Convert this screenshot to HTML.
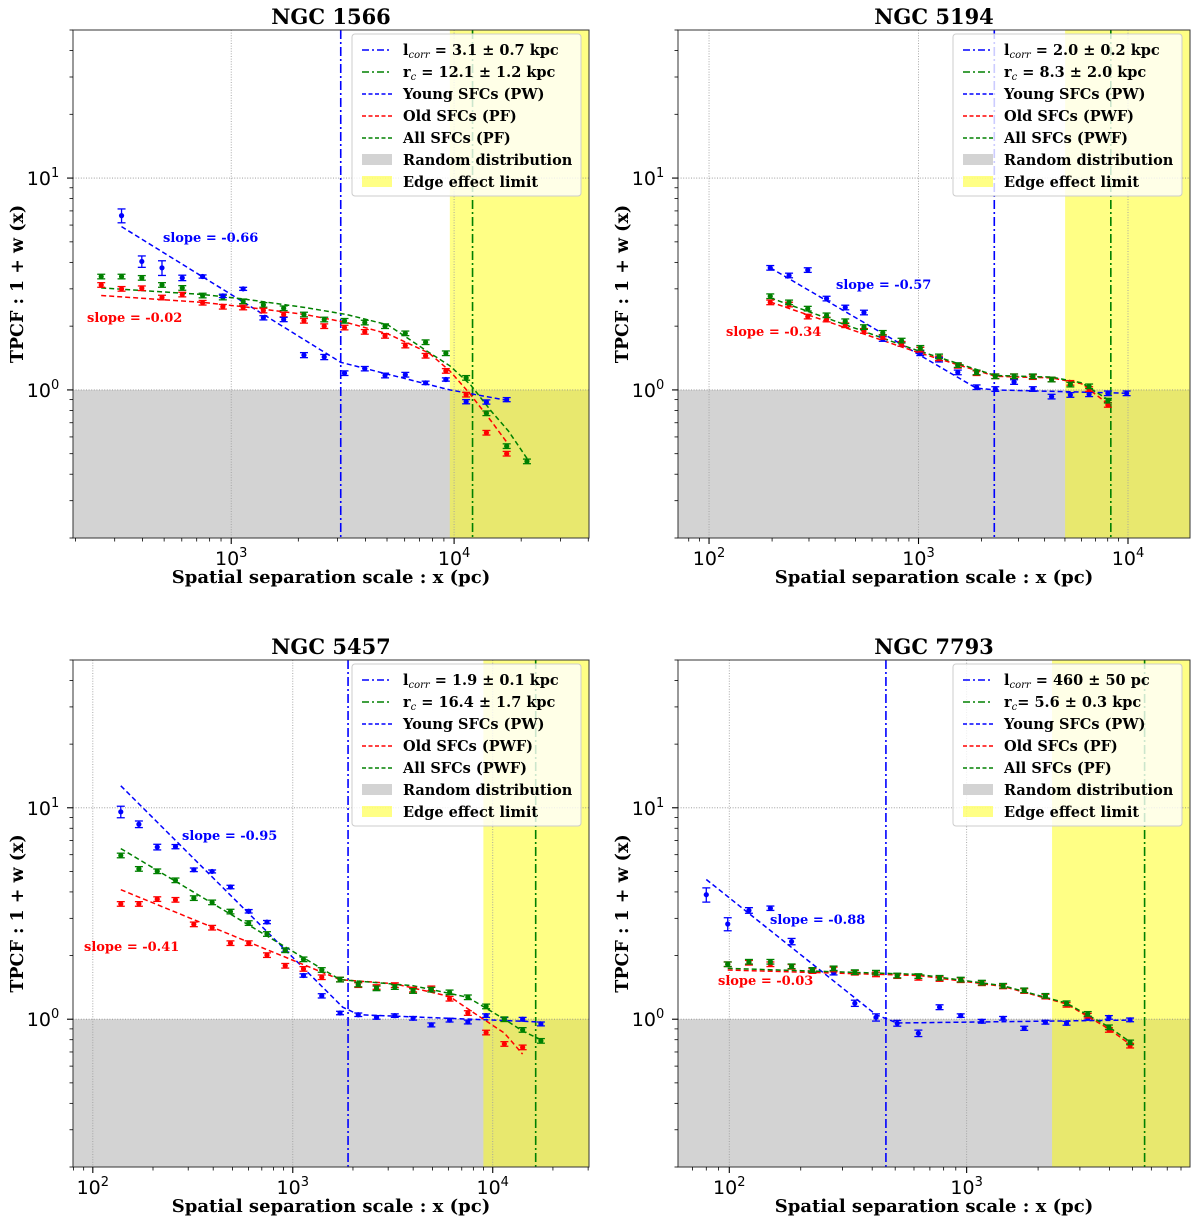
<!DOCTYPE html>
<html><head><meta charset="utf-8"><title>TPCF panels</title>
<style>
html,body{margin:0;padding:0;background:#fff;}
svg{display:block;}
.ser{font-family:"DejaVu Serif","Liberation Serif",serif;font-weight:bold;}
.san{font-family:"DejaVu Sans","Liberation Sans",sans-serif;}
</style></head>
<body>
<svg id="fig" width="1200" height="1226" viewBox="0 0 1200 1226" xmlns="http://www.w3.org/2000/svg"></svg>
<script>
// ---------------- DATA ----------------
// Panel 1: NGC 1566
const p1AllX   = [261,322,397,489,603,744,917,1131,1394,1719,2120,2614,3223,3974,4900,6041,7449,9184,11324,13963,17216,21228];
const p1AllY   = [3.43,3.43,3.38,3.13,3.03,2.79,2.73,2.62,2.52,2.43,2.27,2.15,2.12,2.08,2.00,1.85,1.68,1.49,1.14,0.776,0.543,0.46];
const p1OldX   = [261,322,397,489,603,744,917,1131,1394,1719,2120,2614,3223,3974,4900,6041,7449,9184,11324,13963,17216];
const p1OldY   = [3.13,3.00,3.02,2.73,2.82,2.58,2.47,2.45,2.37,2.27,2.12,2.00,1.97,1.88,1.80,1.62,1.45,1.23,0.95,0.628,0.50];
const p1YoungX = [322,397,489,603,744,917,1131,1394,1719,2120,2614,3223,3974,4900,6041,7449,9184,11324,13963,17216];
const p1YoungY = [6.65,4.04,3.77,3.38,3.43,2.78,3.00,2.19,2.15,1.46,1.43,1.20,1.26,1.17,1.18,1.08,1.12,0.88,0.877,0.90];
const p1YoungErr = [0.5,0.25,0.3,0.1,0.06,0.05,0.05,0.05,0.05,0.04,0.04,0.03,0.03,0.03,0.03,0.02,0.02,0.02,0.02,0.02];
const p1YoungFitX = [322,3100,9570,17530];
const p1YoungFitY = [5.9,1.35,1.0,0.89];
const p1OldFitX = [261,745,1129,2143,3290,5035,7730,9570,11840,14660,17530];
const p1OldFitY = [2.79,2.59,2.47,2.27,2.08,1.84,1.49,1.23,0.953,0.713,0.553];
const p1AllFitX = [261,745,1129,2143,3290,5035,7730,9570,11840,14660,17530,21680];
const p1AllFitY = [3.03,2.82,2.69,2.45,2.27,2.03,1.50,1.30,1.06,0.795,0.64,0.46];
const p1Lines = [3100,12100];   // l_corr, r_c
const p1Edge = 9570;

// Panel 2: NGC 5194
const p2X      = [196,241,296,364,447,549,675,830,1020,1253,1540,1893,2326,2859,3514,4318,5307,6522,8016,9851];
const p2YoungY = [3.77,3.47,3.68,2.70,2.45,2.32,1.74,1.65,1.49,1.39,1.21,1.03,1.01,1.09,1.01,0.93,0.947,0.954,0.964,0.964];
const p2AllX   = [196,241,296,364,447,549,675,830,1020,1253,1540,1893,2326,2859,3514,4318,5307,6522,8016];
const p2AllY   = [2.77,2.59,2.42,2.25,2.11,1.98,1.86,1.71,1.58,1.44,1.31,1.21,1.16,1.16,1.16,1.12,1.06,1.04,0.89];
const p2OldY   = [2.59,2.53,2.22,2.15,2.02,1.90,1.78,1.65,1.55,1.41,1.30,1.20,1.16,1.16,1.15,1.12,1.08,1.01,0.85];
const p2YoungFitX = [196,1885,2300,9851];
const p2YoungFitY = [3.77,1.02,1.0,0.965];
const p2AllFitX = [196,960,2326,4318,6000,8016];
const p2AllFitY = [2.72,1.55,1.17,1.15,1.08,0.90];
const p2OldFitX = [196,960,2326,4318,6000,8016];
const p2OldFitY = [2.60,1.52,1.16,1.14,1.07,0.86];
const p2Lines = [2300,8280];
const p2Edge = 5010;

// Panel 3: NGC 5457
const p3X      = [138,170,210,259,320,395,488,602,743,917,1131,1396,1723,2126,2624,3238,3996,4931,6084,7508,9265,11433,14109,17411];
const p3YoungY = [9.57,8.36,6.52,6.55,5.09,5.00,4.22,3.24,2.88,2.12,1.61,1.29,1.07,1.05,1.02,1.04,1.01,0.94,0.99,0.97,1.04,1.00,1.00,0.95];
const p3YoungErr = [0.6,0.3,0.2,0.15,0.1,0.08,0.08,0.06,0.05,0.04,0.03,0.03,0.02,0.02,0.02,0.02,0.02,0.02,0.02,0.02,0.02,0.02,0.02,0.02];
const p3AllY   = [5.95,5.14,5.01,4.54,3.74,3.57,3.23,2.85,2.53,2.12,1.92,1.71,1.54,1.46,1.40,1.42,1.36,1.38,1.34,1.27,1.15,1.00,0.89,0.79];
const p3OldX   = [138,170,210,259,320,395,488,602,743,917,1131,1396,1723,2126,2624,3238,3996,4931,6084,7508,9265,11433,14109];
const p3OldY   = [3.51,3.51,3.70,3.67,2.81,2.71,2.29,2.29,2.01,1.79,1.73,1.58,1.54,1.45,1.42,1.45,1.38,1.40,1.25,1.07,0.865,0.764,0.736];
const p3YoungFitX = [138,1778,2133,17411];
const p3YoungFitY = [12.7,1.14,1.05,0.97];
const p3AllFitX = [138,1723,3996,7508,11433,14109,17411];
const p3AllFitY = [6.41,1.54,1.44,1.27,1.0,0.88,0.80];
const p3OldFitX = [138,1723,3238,6084,7508,11433,14109];
const p3OldFitY = [4.10,1.54,1.47,1.28,1.12,0.86,0.684];
const p3Lines = [1890,16400];
const p3Edge = 8980;

// Panel 4: NGC 7793
const p4X      = [80,98.5,121,149,183,224,275,338,415,510,626,769,944,1159,1424,1748,2147,2636,3237,3975,4882];
const p4YoungY = [3.88,2.82,3.27,3.35,2.33,1.71,1.66,1.19,1.02,0.957,0.858,1.14,1.04,0.978,1.01,0.906,0.968,0.957,1.01,1.02,0.993];
const p4YoungErr = [0.3,0.2,0.1,0.08,0.08,0.04,0.04,0.04,0.04,0.03,0.03,0.03,0.02,0.02,0.02,0.02,0.02,0.02,0.02,0.02,0.02];
const p4AllX   = [98.5,121,149,183,224,275,338,415,510,626,769,944,1159,1424,1748,2147,2636,3237,3975,4882];
const p4AllY   = [1.82,1.87,1.87,1.78,1.71,1.74,1.67,1.66,1.61,1.60,1.57,1.54,1.49,1.44,1.37,1.29,1.19,1.06,0.916,0.777];
const p4OldY   = [1.82,1.85,1.82,1.77,1.69,1.72,1.66,1.63,1.60,1.57,1.55,1.53,1.48,1.43,1.36,1.28,1.17,1.04,0.89,0.75];
const p4YoungFitX = [80,415,510,4882];
const p4YoungFitY = [4.58,1.05,0.96,0.99];
const p4AllFitX = [98.5,626,1424,2636,3975,4882];
const p4AllFitY = [1.74,1.63,1.44,1.19,0.92,0.78];
const p4OldFitX = [98.5,626,1424,2636,3975,4882];
const p4OldFitY = [1.71,1.61,1.43,1.18,0.90,0.76];
const p4Lines = [457,5620];
const p4Edge = 2290;

// ---------------- DRAWING ----------------
const NS = 'http://www.w3.org/2000/svg';
const fig = document.getElementById('fig');
function el(tag, attrs, parent) {
  const e = document.createElementNS(NS, tag);
  for (const k in attrs) e.setAttribute(k, attrs[k]);
  (parent || fig).appendChild(e);
  return e;
}
const BLUE = '#0000ff', RED = '#ff0000', GREEN = '#008000';

function drawPanel(cfg) {
  const g = el('g', {});
  
  
  const lx0 = Math.log10(cfg.xmin), lx1 = Math.log10(cfg.xmax);
  const ly0 = Math.log10(0.2), ly1 = Math.log10(50);
  const sx = v => cfg.x0 + (Math.log10(v) - lx0) / (lx1 - lx0) * (cfg.x1 - cfg.x0);
  const sy = v => cfg.y1 - (Math.log10(v) - ly0) / (ly1 - ly0) * (cfg.y1 - cfg.y0);
  const W = cfg.x1 - cfg.x0, H = cfg.y1 - cfg.y0;

  const clipId = 'clip-' + cfg.id;
  const cp = el('clipPath', {id: clipId}, g);
  el('rect', {x: cfg.x0, y: cfg.y0, width: W, height: H}, cp);
  const plot = el('g', {'clip-path': 'url(#' + clipId + ')'}, g);

  const gray = el('rect', {x: cfg.x0, y: sy(1), width: W, height: cfg.y1 - sy(1), fill: '#d3d3d3'}, plot);
  
  
  const yel = el('rect', {x: sx(cfg.edge), y: cfg.y0, width: cfg.x1 - sx(cfg.edge), height: H, fill: '#ffff00', 'fill-opacity': 0.48}, plot);
  
  

  for (let d = Math.ceil(lx0); d <= lx1; d++) {
    const x = sx(Math.pow(10, d));
    const gl = el('line', {x1: x, x2: x, y1: cfg.y0, y2: cfg.y1, stroke: '#a0a0a0', 'stroke-width': 0.9, 'stroke-dasharray': '1,1.6'}, plot);
    
    
  }
  [1, 10].forEach(v => {
    const gl = el('line', {x1: cfg.x0, x2: cfg.x1, y1: sy(v), y2: sy(v), stroke: '#909090', 'stroke-width': 0.9, 'stroke-dasharray': '1,1.6'}, plot);
    
    
  });

  const vl1 = el('line', {x1: sx(cfg.lines[0]), x2: sx(cfg.lines[0]), y1: cfg.y0, y2: cfg.y1, stroke: BLUE, 'stroke-width': 1.6, 'stroke-dasharray': '9,3,2,3'}, plot);
  
  
  const vl2 = el('line', {x1: sx(cfg.lines[1]), x2: sx(cfg.lines[1]), y1: cfg.y0, y2: cfg.y1, stroke: GREEN, 'stroke-width': 1.6, 'stroke-dasharray': '9,3,2,3'}, plot);
  
  

  cfg.fits.forEach(f => {
    const pts = f.x.map((v, i) => sx(v).toFixed(1) + ',' + sy(f.y[i]).toFixed(1)).join(' ');
    const pl = el('polyline', {points: pts, fill: 'none', stroke: f.c, 'stroke-width': 1.5, 'stroke-dasharray': '5,3'}, plot);
    
    
  });

  cfg.series.forEach(s => {
    const sg = el('g', {}, plot);
    
    
    s.x.forEach((v, i) => {
      const cx = sx(v), cy = sy(s.y[i]);
      const e = s.err ? s.err[i] : 0.025 * s.y[i];
      const ya = sy(s.y[i] + e), yb = sy(Math.max(0.01, s.y[i] - e));
      el('line', {x1: cx, x2: cx, y1: ya, y2: yb, stroke: s.c, 'stroke-width': 1.3}, sg);
      el('line', {x1: cx - 4, x2: cx + 4, y1: ya, y2: ya, stroke: s.c, 'stroke-width': 1.3}, sg);
      el('line', {x1: cx - 4, x2: cx + 4, y1: yb, y2: yb, stroke: s.c, 'stroke-width': 1.3}, sg);
      const m = el('circle', {cx: cx, cy: cy, r: 2.6, fill: s.c}, sg);
      
      
    });
  });

  cfg.slopes.forEach(t => {
    const tx = el('text', {x: t.x, y: t.y, fill: t.c, 'font-size': 13, class: 'ser'}, g);
    tx.textContent = t.text;
    
    
  });

  const sp = el('rect', {x: cfg.x0, y: cfg.y0, width: W, height: H, fill: 'none', stroke: '#333', 'stroke-width': 1}, g);
  
  

  for (let d = Math.floor(lx0); d <= Math.ceil(lx1); d++) {
    for (let k = 1; k < 10; k++) {
      const v = k * Math.pow(10, d);
      if (v < cfg.xmin || v > cfg.xmax) continue;
      const x = sx(v);
      el('line', {x1: x, x2: x, y1: cfg.y1, y2: cfg.y1 + (k === 1 ? 6 : 3.5), stroke: '#000', 'stroke-width': k === 1 ? 1.1 : 0.8}, g);
      if (k === 1) {
        const t = el('text', {x: x, y: cfg.y1 + 27, 'text-anchor': 'middle', 'font-size': 19, class: 'san'}, g);
        
        
        t.innerHTML = '10<tspan dy="-8" font-size="13">' + d + '</tspan>';
      }
    }
  }
  for (let d = -1; d <= 1; d++) {
    for (let k = 1; k < 10; k++) {
      const v = k * Math.pow(10, d);
      if (v < 0.2 || v > 50) continue;
      const y = sy(v);
      el('line', {x1: cfg.x0, x2: cfg.x0 - (k === 1 ? 6 : 3.5), y1: y, y2: y, stroke: '#000', 'stroke-width': k === 1 ? 1.1 : 0.8}, g);
      if (k === 1) {
        const t = el('text', {x: cfg.x0 - 30, y: y + 7, 'text-anchor': 'middle', 'font-size': 19, class: 'san'}, g);
        
        
        t.innerHTML = '10<tspan dy="-8" font-size="13">' + d + '</tspan>';
      }
    }
  }

  const ti = el('text', {x: (cfg.x0 + cfg.x1) / 2, y: cfg.y0 - 6, 'text-anchor': 'middle', 'font-size': 21, class: 'ser'}, g);
  ti.textContent = cfg.title;
  
  
  const xl = el('text', {x: (cfg.x0 + cfg.x1) / 2, y: cfg.y1 + 45, 'text-anchor': 'middle', 'font-size': 18, class: 'ser'}, g);
  xl.textContent = 'Spatial separation scale : x (pc)';
  
  
  const ym = (cfg.y0 + cfg.y1) / 2;
  const yx = cfg.x0 - 50;
  const yl = el('text', {x: yx, y: ym, 'text-anchor': 'middle', 'font-size': 17.5, class: 'ser', transform: 'rotate(-90 ' + yx + ' ' + ym + ')'}, g);
  yl.textContent = 'TPCF : 1 + w (x)';
  
  

  const lg = el('g', {}, g);
  
  
  const lxL = cfg.x1 - 237, lyT = cfg.y0 + 4;
  el('rect', {x: lxL, y: lyT, width: 229, height: 162, rx: 3, fill: '#fff', 'fill-opacity': 0.8, stroke: '#ccc', 'stroke-width': 1}, lg);
  cfg.legend.forEach((it, i) => {
    const y = lyT + 16 + i * 22;
    const hx = lxL + 10;
    if (it.kind === 'patch') {
      el('rect', {x: hx, y: y - 6, width: 30, height: 11, fill: it.c, 'fill-opacity': it.op || 1}, lg);
    } else {
      el('line', {x1: hx, x2: hx + 30, y1: y, y2: y, stroke: it.c, 'stroke-width': 1.6, 'stroke-dasharray': it.kind === 'dashdot' ? '7,3,2,3' : '4,2.5'}, lg);
    }
    const t = el('text', {x: hx + 41, y: y + 5, 'font-size': 14.5, class: 'ser'}, lg);
    t.innerHTML = it.html;
    
    
  });
}

function legendFor(lc, rc, oldT, allT) {
  return [
    {kind: 'dashdot', c: BLUE, html: 'l<tspan font-size="10" dy="3" font-style="italic" font-weight="normal">corr</tspan><tspan dy="-3"> = ' + lc + '</tspan>'},
    {kind: 'dashdot', c: GREEN, html: 'r<tspan font-size="10" dy="3" font-style="italic" font-weight="normal">c</tspan><tspan dy="-3">' + rc + '</tspan>'},
    {kind: 'dash', c: BLUE, html: 'Young SFCs (PW)'},
    {kind: 'dash', c: RED, html: 'Old SFCs (' + oldT + ')'},
    {kind: 'dash', c: GREEN, html: 'All SFCs (' + allT + ')'},
    {kind: 'patch', c: '#d3d3d3', html: 'Random distribution'},
    {kind: 'patch', c: '#ffff00', op: 0.48, html: 'Edge effect limit'}
  ];
}

drawPanel({id: 'ngc1566', title: 'NGC 1566', x0: 73, x1: 589, y0: 30, y1: 538, xmin: 195, xmax: 40300, edge: p1Edge, lines: p1Lines,
  fits: [{x: p1YoungFitX, y: p1YoungFitY, c: BLUE, name: 'young-fit'}, {x: p1OldFitX, y: p1OldFitY, c: RED, name: 'old-fit'}, {x: p1AllFitX, y: p1AllFitY, c: GREEN, name: 'all-fit'}],
  series: [{x: p1AllX, y: p1AllY, c: GREEN, name: 'all-sfcs-points'}, {x: p1OldX, y: p1OldY, c: RED, name: 'old-sfcs-points'}, {x: p1YoungX, y: p1YoungY, err: p1YoungErr, c: BLUE, name: 'young-sfcs-points'}],
  slopes: [{x: 163, y: 242, c: BLUE, text: 'slope = -0.66'}, {x: 87, y: 322, c: RED, text: 'slope = -0.02'}],
  legend: legendFor('3.1 ± 0.7 kpc', ' = 12.1 ± 1.2 kpc', 'PF', 'PF')});

drawPanel({id: 'ngc5194', title: 'NGC 5194', x0: 678, x1: 1190, y0: 30, y1: 538, xmin: 71.1, xmax: 19770, edge: p2Edge, lines: p2Lines,
  fits: [{x: p2YoungFitX, y: p2YoungFitY, c: BLUE, name: 'young-fit'}, {x: p2OldFitX, y: p2OldFitY, c: RED, name: 'old-fit'}, {x: p2AllFitX, y: p2AllFitY, c: GREEN, name: 'all-fit'}],
  series: [{x: p2X, y: p2YoungY, c: BLUE, name: 'young-sfcs-points'}, {x: p2AllX, y: p2OldY, c: RED, name: 'old-sfcs-points'}, {x: p2AllX, y: p2AllY, c: GREEN, name: 'all-sfcs-points'}],
  slopes: [{x: 836, y: 289, c: BLUE, text: 'slope = -0.57'}, {x: 726, y: 336, c: RED, text: 'slope = -0.34'}],
  legend: legendFor('2.0 ± 0.2 kpc', ' = 8.3 ± 2.0 kpc', 'PWF', 'PWF')});

drawPanel({id: 'ngc5457', title: 'NGC 5457', x0: 73, x1: 589, y0: 660, y1: 1167, xmin: 79.6, xmax: 30300, edge: p3Edge, lines: p3Lines,
  fits: [{x: p3YoungFitX, y: p3YoungFitY, c: BLUE, name: 'young-fit'}, {x: p3OldFitX, y: p3OldFitY, c: RED, name: 'old-fit'}, {x: p3AllFitX, y: p3AllFitY, c: GREEN, name: 'all-fit'}],
  series: [{x: p3X, y: p3YoungY, err: p3YoungErr, c: BLUE, name: 'young-sfcs-points'}, {x: p3OldX, y: p3OldY, c: RED, name: 'old-sfcs-points'}, {x: p3X, y: p3AllY, c: GREEN, name: 'all-sfcs-points'}],
  slopes: [{x: 182, y: 840, c: BLUE, text: 'slope = -0.95'}, {x: 84, y: 951, c: RED, text: 'slope = -0.41'}],
  legend: legendFor('1.9 ± 0.1 kpc', ' = 16.4 ± 1.7 kpc', 'PWF', 'PWF')});

drawPanel({id: 'ngc7793', title: 'NGC 7793', x0: 678, x1: 1190, y0: 660, y1: 1167, xmin: 60.8, xmax: 8730, edge: p4Edge, lines: p4Lines,
  fits: [{x: p4YoungFitX, y: p4YoungFitY, c: BLUE, name: 'young-fit'}, {x: p4OldFitX, y: p4OldFitY, c: RED, name: 'old-fit'}, {x: p4AllFitX, y: p4AllFitY, c: GREEN, name: 'all-fit'}],
  series: [{x: p4X, y: p4YoungY, err: p4YoungErr, c: BLUE, name: 'young-sfcs-points'}, {x: p4AllX, y: p4OldY, c: RED, name: 'old-sfcs-points'}, {x: p4AllX, y: p4AllY, c: GREEN, name: 'all-sfcs-points'}],
  slopes: [{x: 770, y: 924, c: BLUE, text: 'slope = -0.88'}, {x: 718, y: 985, c: RED, text: 'slope = -0.03'}],
  legend: legendFor('460 ± 50 pc', '= 5.6 ± 0.3 kpc', 'PF', 'PF')});
</script>
</body></html>
